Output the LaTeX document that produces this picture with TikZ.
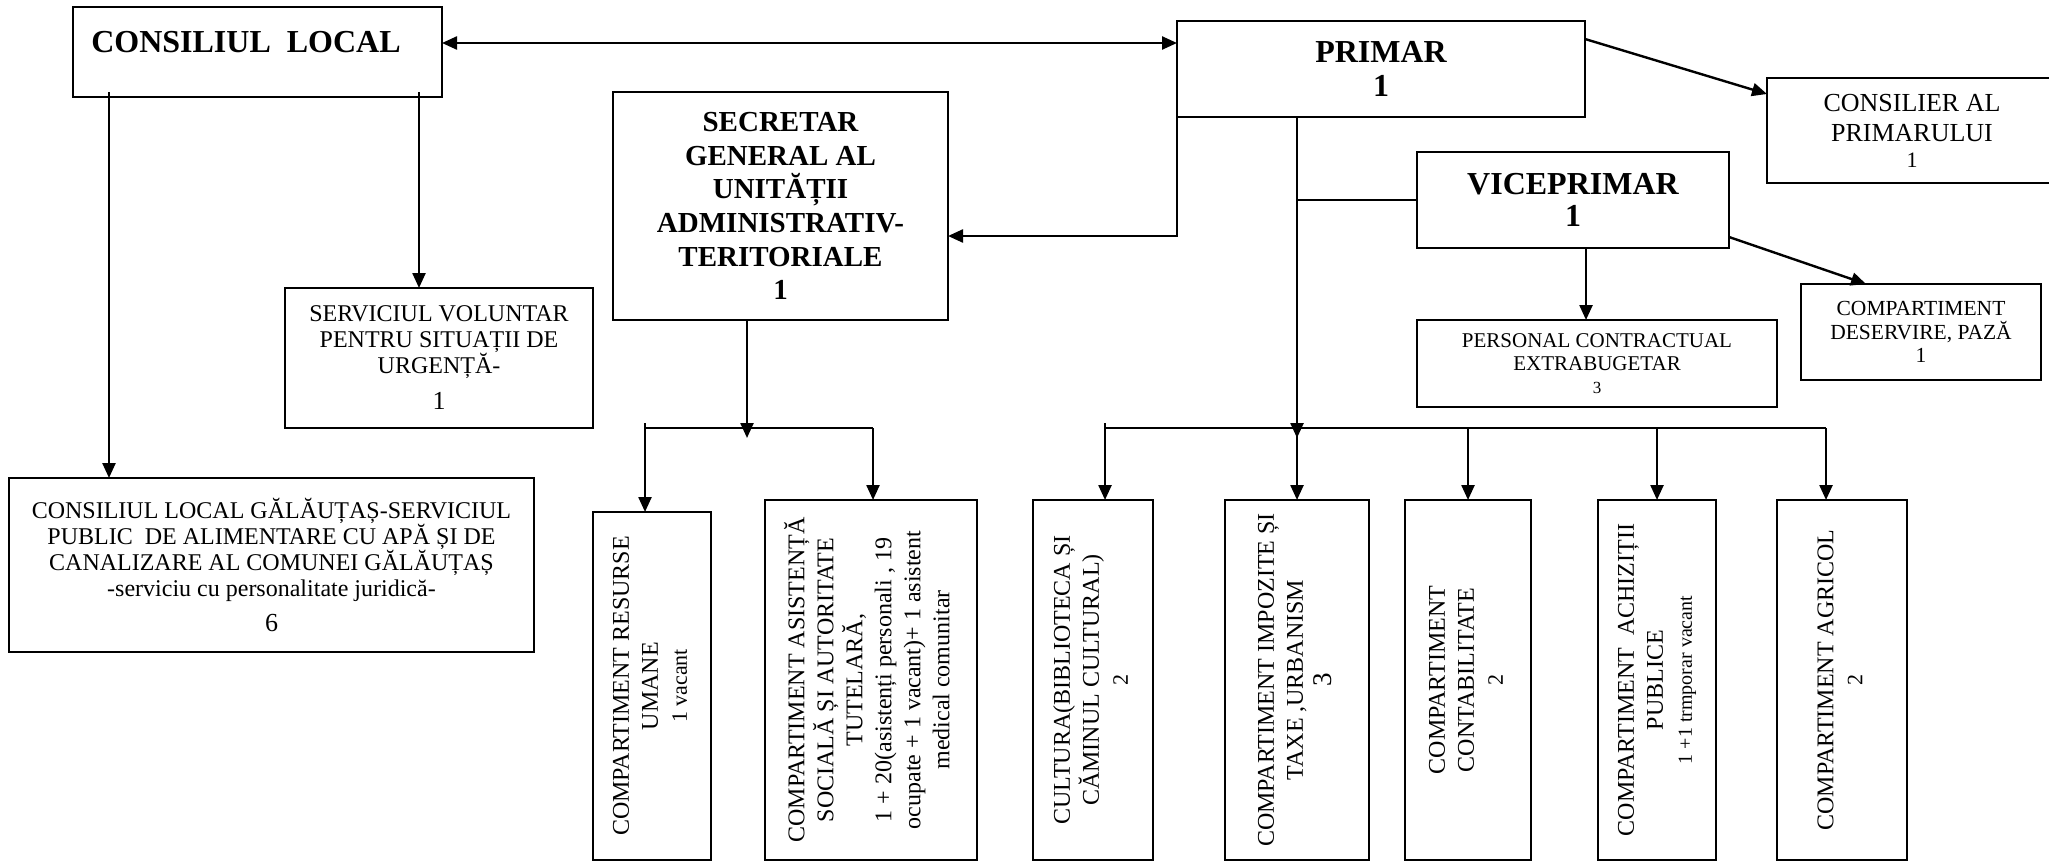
\documentclass[tikz,border=0pt]{standalone}
\usepackage{fontspec}
\setmainfont{Liberation Serif}
\usepackage{graphicx}
\usetikzlibrary{arrows.meta,calc}
\newcommand\myfs[2]{\fontsize{#1}{#2}\selectfont}
\begin{document}
\begin{tikzpicture}[x=1pt,y=-1pt,
  box/.style={draw,line width=2.2pt,inner sep=0pt,outer sep=0pt,align=center},
  rbox/.style={draw,line width=2.2pt,inner sep=0pt,outer sep=0pt},
  ln/.style={line width=2.4pt},
  arr/.style={ln,-{Triangle[length=15pt,width=13pt]}},
  arrb/.style={ln,{Triangle[length=15pt,width=13pt]}-{Triangle[length=15pt,width=13pt]}},
  body/.style={font=\myfs{24}{26}},
  rot/.style={font=\myfs{24}{29}}]
\useasboundingbox (0,0) rectangle (2049,862);
\fill[white] (0,0) rectangle (2049,862);

% top level
\node[box,minimum width=369pt,text height=45pt,text depth=45pt,font=\bfseries\myfs{32}{34}] (cl) at (257.5,52) {CONSILIUL\ \ LOCAL\hspace*{23pt}};
\node[box,minimum width=408pt,minimum height=96pt,font=\bfseries\myfs{32}{34}] (primar) at (1381,69) {PRIMAR\\1};
\node[box,minimum width=290pt,minimum height=105pt,font=\myfs{26}{30}] (cons) at (1912,130.5) {CONSILIER AL\\PRIMARULUI\\[-4pt]{\myfs{22}{26}1}};
\node[box,minimum width=312pt,minimum height=96pt,font=\bfseries\myfs{32}{32}] (vice) at (1573,200) {VICEPRIMAR\\1};
\node[box,minimum width=335pt,minimum height=228pt,font=\bfseries\myfs{29}{33.6}] (sec) at (780.5,206) {SECRETAR\\GENERAL AL\\UNITĂȚII\\ADMINISTRATIV-\\TERITORIALE\\1};
\node[box,minimum width=308pt,minimum height=140pt,body] (serv) at (439,358) {SERVICIUL VOLUNTAR\\PENTRU SITUAȚII DE\\URGENȚĂ-\\[10pt]{\myfs{26}{26}1}};
\node[box,minimum width=525pt,minimum height=174pt,body] (gal) at (271.5,565) {CONSILIUL LOCAL GĂLĂUȚAȘ-SERVICIUL\\PUBLIC\ \ DE ALIMENTARE CU APĂ ȘI DE\\CANALIZARE AL COMUNEI GĂLĂUȚAȘ\\-serviciu cu personalitate juridică-\\[9pt]{\myfs{26}{26}6}};
\node[box,minimum width=360pt,minimum height=87pt,font=\myfs{21}{23}] (pers) at (1597,363.5) {PERSONAL CONTRACTUAL\\EXTRABUGETAR\\{\myfs{17}{23}3}};
\node[box,minimum width=240pt,minimum height=96pt,font=\myfs{21.5}{23.5}] (des) at (1921,332) {COMPARTIMENT\\DESERVIRE, PAZĂ\\1};

% bottom row (vertical text)
\node[rbox,minimum width=118pt,minimum height=348pt,rot] (res) at (652,686) {\rotatebox{90}{\begin{tabular}{@{}c@{}}COMPARTIMENT RESURSE\\UMANE\\{\myfs{22}{29}1 vacant}\end{tabular}}};
\node[rbox,minimum width=212pt,minimum height=360pt,rot] (asi) at (871,680) {\rotatebox{90}{\begin{tabular}{@{}c@{}}COMPARTIMENT ASISTENȚĂ\\SOCIALĂ ȘI AUTORITATE\\TUTELARĂ,\\1 + 20(asistenți personali , 19\\ocupate + 1 vacant)+ 1 asistent\\medical comunitar\end{tabular}}};
\node[rbox,minimum width=120pt,minimum height=360pt,rot] (cul) at (1093,680) {\rotatebox{90}{\begin{tabular}{@{}c@{}}CULTURA(BIBLIOTECA ȘI\\CĂMINUL CULTURAL)\\{\myfs{22}{29}2}\end{tabular}}};
\node[rbox,minimum width=144pt,minimum height=360pt,rot] (imp) at (1297,680) {\rotatebox{90}{\begin{tabular}{@{}c@{}}COMPARTIMENT IMPOZITE ȘI\\TAXE ,URBANISM\\{\myfs{27}{30}3}\end{tabular}}};
\node[rbox,minimum width=126pt,minimum height=360pt,rot] (con) at (1468,680) {\rotatebox{90}{\begin{tabular}{@{}c@{}}COMPARTIMENT\\CONTABILITATE\\{\myfs{22}{29}2}\end{tabular}}};
\node[rbox,minimum width=118pt,minimum height=360pt,rot] (ach) at (1657,680) {\rotatebox{90}{\begin{tabular}{@{}c@{}}COMPARTIMENT\ \ ACHIZIȚII\\PUBLICE\\{\myfs{20}{29}1 +1 trmporar vacant}\end{tabular}}};
\node[rbox,minimum width=130pt,minimum height=360pt,rot] (agr) at (1842,680) {\rotatebox{90}{\begin{tabular}{@{}c@{}}COMPARTIMENT AGRICOL\\{\myfs{22}{29}2}\end{tabular}}};

% coordinates
\coordinate (clp) at ([yshift=9pt]cl.east);
\coordinate (pc) at ([yshift=30pt]primar.east);
\coordinate (cc) at ([yshift=36.5pt]cons.west);
\coordinate (ps) at ([yshift=-30pt]sec.east);
\coordinate (b2l) at (1105,428);
\coordinate (b2r) at (1826,428);
\coordinate (b1l) at (645,428);
\coordinate (b1r) at (873,428);
\coordinate (t2) at (1297,438);
\coordinate (t1) at (747,438);
\coordinate (vs) at ([xshift=13pt]vice.south);
\coordinate (ve) at ([yshift=-37pt]vice.east);
\coordinate (dn) at ([xshift=-55pt]des.north);
\coordinate (cl1) at ([xshift=36pt,yshift=5pt]cl.south west);
\coordinate (cl2) at ([xshift=-23pt,yshift=5pt]cl.south east);

% connectors
\draw[arrb] (clp) -- (clp -| primar.west);
\draw[arr] (pc) -- (cc);
\draw[arr] (primar.south west) |- (ps);
\draw[arr] (t2 |- primar.south) -- (t2);
\draw[ln] (vice.west) -- (vice.west -| t2);
\draw[ln] ([yshift=5pt]b2l) -- (b2l) -- (b2r);
\draw[arr] (b2l) -- (b2l |- cul.north);
\draw[arr] (imp.north |- b2l) -- (imp.north);
\draw[arr] (con.north |- b2l) -- (con.north);
\draw[arr] (ach.north |- b2l) -- (ach.north);
\draw[arr] (b2r) -- (b2r |- agr.north);
\draw[arr] (t1 |- sec.south) -- (t1);
\draw[ln] ([yshift=5pt]b1l) -- (b1l) -- (b1r);
\draw[arr] (b1l) -- (b1l |- res.north);
\draw[arr] (b1r) -- (b1r |- asi.north);
\draw[arr] (vs) -- (vs |- pers.north);
\draw[arr] (ve) -- (dn);
\draw[arr] (cl1) -- (cl1 |- gal.north);
\draw[arr] (cl2) -- (cl2 |- serv.north);
\end{tikzpicture}
\end{document}
